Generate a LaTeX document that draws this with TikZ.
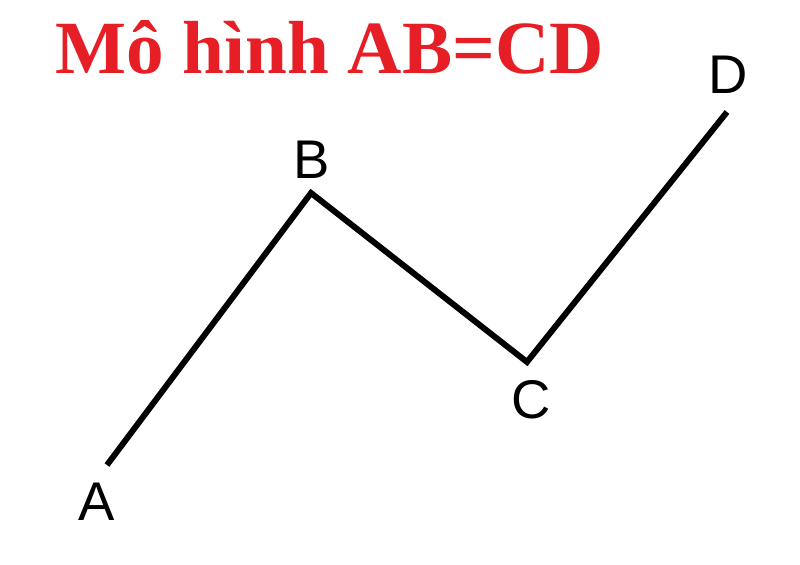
\documentclass[tikz,border=0pt]{standalone}
\usepackage{fontspec}
\setmainfont{Liberation Serif}
\newfontfamily\labelfont{Liberation Sans}
\usepackage{tikz}
\definecolor{titlered}{RGB}{230,30,38}

\begin{document}
\begin{tikzpicture}[x=0.02cm, y=-0.02cm]
        \tikzstyle{title} = [anchor=base west, inner sep=0pt, text=titlered, font=\bfseries\fontsize{42.8}{48}\selectfont]
        \tikzstyle{lbl} = [inner sep=0pt, font=\labelfont\fontsize{31}{36}\selectfont]
        \tikzstyle{leg} = [line width=3.4pt, line join=miter, line cap=butt]

        \useasboundingbox (0,0) rectangle (800,564);

        % Title
        \node (heading) [title] at (55,74) {Mô hình AB=CD};

        % Points
        \coordinate (pA) at (107,465);
        \coordinate (pB) at (311,193);
        \coordinate (pC) at (527,362);
        \coordinate (pD) at (727,112);

        % Labels
        \node (labA) [lbl] at (97,502) {A};
        \node (labB) [lbl] at (312,160) {B};
        \node (labC) [lbl] at (531,400) {C};
        \node (labD) [lbl] at (728,75) {D};

        % Legs
        \draw [leg] (pA) -- (pB) -- (pC) -- (pD);

    \end{tikzpicture}
\end{document}
